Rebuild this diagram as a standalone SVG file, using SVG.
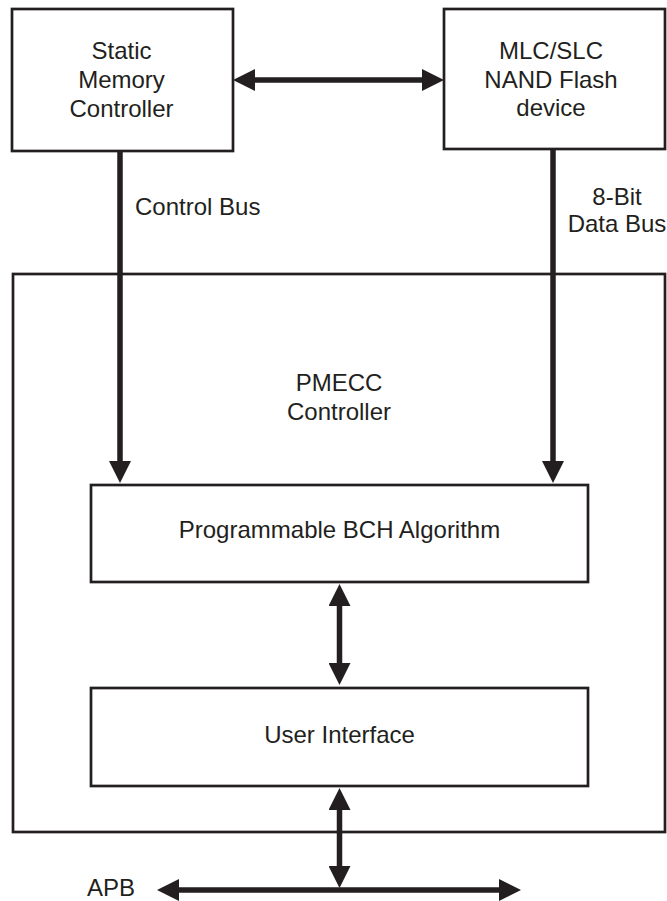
<svg xmlns="http://www.w3.org/2000/svg" width="667" height="901" viewBox="0 0 667 901">
<style>
.box{fill:none;stroke:#231f20;stroke-width:2.7}
.t{font-family:"Liberation Sans",Arial,sans-serif;font-size:24px;fill:#231f20;text-anchor:middle}
.tl{font-family:"Liberation Sans",Arial,sans-serif;font-size:24px;fill:#231f20}
.c{fill:none;stroke:#231f20;stroke-width:5.5}
.ca{marker-end:url(#ah)}
.cb{marker-start:url(#ah);marker-end:url(#ah)}
</style>
<defs>
<marker id="ah" markerUnits="userSpaceOnUse" viewBox="0 0 22 22" refX="1" refY="11" markerWidth="22" markerHeight="22" orient="auto-start-reverse">
<path d="M0,0 L22,11 L0,22 Z" fill="#231f20"/>
</marker>
</defs>
<rect width="667" height="901" fill="#fff"/>
<g id="pmecc">
<rect class="box" x="13" y="274" width="652" height="558"/>
<text class="t" x="339" y="391">PMECC</text>
<text class="t" x="339" y="420">Controller</text>
</g>
<g id="smc">
<rect class="box" x="12" y="9" width="221" height="142"/>
<text class="t" x="121.5" y="59">Static</text>
<text class="t" x="121.5" y="88">Memory</text>
<text class="t" x="121.5" y="117">Controller</text>
</g>
<g id="nand">
<rect class="box" x="444" y="9" width="221" height="140"/>
<text class="t" x="551" y="59">MLC/SLC</text>
<text class="t" x="551" y="88">NAND Flash</text>
<text class="t" x="551" y="116">device</text>
</g>
<g id="bch">
<rect class="box" x="91" y="485" width="497" height="97"/>
<text class="t" x="339.5" y="537.5">Programmable BCH Algorithm</text>
</g>
<g id="ui">
<rect class="box" x="91" y="688" width="497" height="98"/>
<text class="t" x="339.5" y="743">User Interface</text>
</g>
<g id="connectors">
<line class="c cb" x1="254" y1="80" x2="423" y2="80"/>
<line class="c ca" x1="120" y1="151" x2="120" y2="462"/>
<line class="c ca" x1="553" y1="149" x2="553" y2="462"/>
<line class="c cb" x1="339.5" y1="605" x2="339.5" y2="664"/>
<line class="c cb" x1="339.5" y1="809" x2="339.5" y2="867"/>
<line class="c cb" x1="178" y1="890" x2="500" y2="890"/>
<text class="tl" x="135" y="215">Control Bus</text>
<text class="t" x="617" y="205">8-Bit</text>
<text class="t" x="617" y="232">Data Bus</text>
<text class="tl" x="87" y="896">APB</text>
</g>
</svg>
